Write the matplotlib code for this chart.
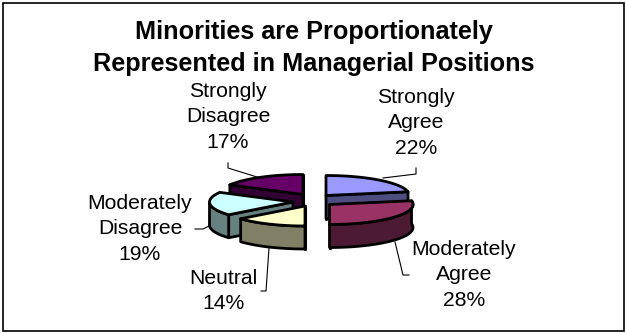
import numpy as np
import matplotlib
matplotlib.use('Agg')
import matplotlib.pyplot as plt
from matplotlib.patches import Polygon

plt.rcParams['font.family'] = ['Liberation Sans', 'DejaVu Sans']

title = 'Minorities are Proportionately\nRepresented in Managerial Positions'
categories = ['Strongly\nAgree', 'Moderately\nAgree', 'Neutral', 'Moderately\nDisagree', 'Strongly\nDisagree']
values = [22, 28, 14, 19, 17]
top_colors = ['#9999FF', '#993366', '#FFFFCC', '#CCFFFF', '#660066']
side_colors = ['#4D4D80', '#4D1A33', '#808066', '#668080', '#330033']

# apex of each exploded slice, in pixels
apex = [(326, 195.5), (329.5, 204.5), (305, 206), (293, 202), (303, 194.5)]
# back slices go first so the front ones cover them
draw_order = [4, 0, 3, 1, 2]

label_pos = [(416, 123), (464, 275), (223, 291), (140, 229), (228, 117)]
leaders = [
    [(383, 178), (416, 174), (416, 168)],
    [(395, 242), (403, 275), (409, 275)],
    [(269, 248), (266, 291), (261, 291)],
    [(209, 226), (203, 229), (195, 229)],
    [(257, 177), (228, 168), (228, 163)],
]

RX, RY, DEPTH = 83.5, 20, 23
LW = 2.0


def rim(cx, cy, a):
    # angles run clockwise from the top of the pie
    return np.column_stack((cx + RX * np.sin(a), cy - RY * np.cos(a)))


def draw_slice(ax, cx, cy, a0, a1, top, side):
    t = np.linspace(a0, a1, 80)
    arc = rim(cx, cy, t)
    down = np.array([0, DEPTH])
    centre = np.array([cx, cy])

    # cut faces
    for a, show in ((a0, np.sin(a0) <= 1e-9), (a1, np.sin(a1) >= -1e-9)):
        if show:
            p = rim(cx, cy, np.array([a]))[0]
            ax.add_patch(Polygon([centre, p, p + down, centre + down], closed=True,
                                 fc=side, ec='black', lw=LW, joinstyle='round'))

    # outer wall, only the part that faces front
    lo, hi = max(a0, np.pi / 2 * 0.88), min(a1, np.pi * 1.5)
    if lo < hi:
        w = rim(cx, cy, np.linspace(lo, hi, 80))
        ax.add_patch(Polygon(np.vstack((w, (w + down)[::-1])), closed=True,
                             fc=side, ec='black', lw=LW, joinstyle='round'))

    ax.add_patch(Polygon(np.vstack((centre, arc)), closed=True,
                         fc=top, ec='black', lw=LW, joinstyle='round'))


fig = plt.figure(figsize=(6.26, 3.33), dpi=100)
ax = fig.add_axes([0, 0, 1, 1])
ax.set_xlim(0, 626)
ax.set_ylim(333, 0)
ax.axis('off')

# outer frame
ax.add_patch(plt.Rectangle((3, 3), 621, 328, fc='white', ec='black', lw=1.2))

edges = 2 * np.pi * np.cumsum([0] + values) / sum(values)
for i in draw_order:
    draw_slice(ax, apex[i][0], apex[i][1], edges[i], edges[i + 1], top_colors[i], side_colors[i])

for line in leaders:
    xs, ys = zip(*line)
    ax.plot(xs, ys, color='black', lw=0.8)

ax.text(314, 48, title, ha='center', va='center', fontsize=18.15, fontweight='bold', linespacing=1.42)

for name, v, (x, y) in zip(categories, values, label_pos):
    ax.text(x, y, f'{name}\n{v}%', ha='center', va='center', fontsize=15.2, linespacing=1.46)

fig.savefig('out.png', dpi=100)
